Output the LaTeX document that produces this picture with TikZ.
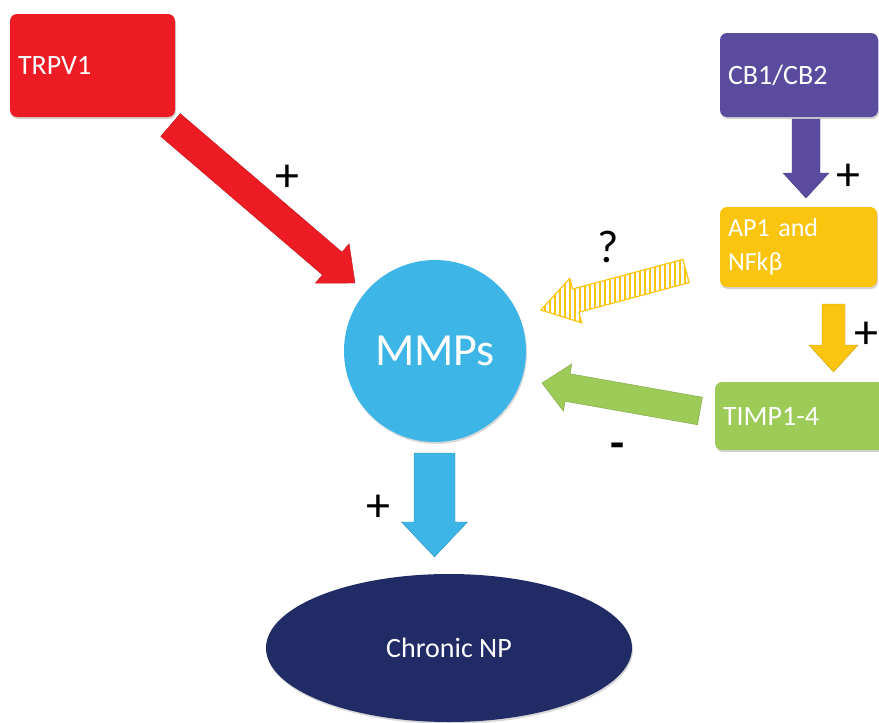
\documentclass[tikz,border=0pt]{standalone}
\usepackage{fontspec}
\setmainfont{Carlito}
\usetikzlibrary{calc,patterns.meta,shadows,shapes.geometric}

\definecolor{cred}{HTML}{ED1C24}
\definecolor{cpurple}{HTML}{5B4B9F}
\definecolor{cyellow}{HTML}{FBC40F}
\definecolor{cgreen}{HTML}{9CCB58}
\definecolor{cblue}{HTML}{3DB5E6}
\definecolor{cnavy}{HTML}{212B66}

% style, tail, tip, shaft half width, head half width, head length
\newcommand{\blockarrow}[6]{%
  \coordinate (ba-h) at ($(#3)!#6!(#2)$);
  \path[#1] ($(#2)!#4!90:(#3)$) -- ($(ba-h)!#4!-90:(#2)$) -- ($(ba-h)!#5!-90:(#2)$)
    -- (#3) -- ($(ba-h)!#5!90:(#2)$) -- ($(ba-h)!#4!90:(#2)$) -- ($(#2)!#4!-90:(#3)$) -- cycle;
}

\tikzset{
  boxnode/.style={rectangle, rounded corners=7pt, text=white, font=\fontsize{28}{30}\selectfont,
    align=left, inner xsep=8pt, inner ysep=0pt,
    drop shadow={shadow xshift=1pt, shadow yshift=-2pt, opacity=0.35}},
  sign/.style={font=\fontsize{48}{50}\selectfont, text=black, inner sep=0pt},
  solidarrow/.style={fill=#1, draw=#1!80!black, line width=0.4pt},
  hatcharrow/.style={draw=cyellow, line width=1.2pt,
    pattern={Lines[angle=90,distance=5pt,line width=1.3pt]}, pattern color=cyellow}
}

\begin{document}
\begin{tikzpicture}[x=1pt,y=-1pt]
\useasboundingbox (0,0) rectangle (879,723);
\clip (0,0) rectangle (879,723);

% nodes
\node[boxnode, fill=cred, minimum width=165pt, minimum height=103pt, text width=149pt] (trpv) at (92.5,65.5) {TRPV1};
\node[boxnode, fill=cpurple, minimum width=158pt, minimum height=84pt, text width=142pt] (cb) at (799,75) {CB1/CB2};
\node[boxnode, fill=cyellow, minimum width=157pt, minimum height=80pt, text width=141pt,
      font=\fontsize{26}{34}\selectfont] (ap) at (798.5,247) {AP1 and\\NFkβ};
\node[boxnode, fill=cgreen, minimum width=170pt, minimum height=68pt, text width=154pt] (timp) at (800,416) {TIMP1-4};
\node[circle, fill=cblue, minimum size=182pt, text=white, font=\fontsize{46}{48}\selectfont,
      drop shadow={shadow xshift=1pt, shadow yshift=-2pt, opacity=0.3}] (mmp) at (435,351) {MMPs};
\node[ellipse, fill=cnavy, minimum width=366pt, minimum height=148pt, text=white,
      font=\fontsize{28}{30}\selectfont,
      drop shadow={shadow xshift=1pt, shadow yshift=-2pt, opacity=0.3}] (np) at (449,648) {Chronic NP};

% arrow end points
\coordinate (r-t) at (170.5,125);  \coordinate (r-h) at (355,283);
\coordinate (p-t) at (806,119);    \coordinate (p-h) at (806,198);
\coordinate (y-t) at (833.5,304);  \coordinate (y-h) at (833.5,372);
\coordinate (b-t) at (434.5,453);  \coordinate (b-h) at (434.5,557);
\coordinate (g-t) at (700,411);    \coordinate (g-h) at (542,383);
\coordinate (q-t) at (686,271);    \coordinate (q-h) at (541,310);

\blockarrow{solidarrow=cred}{r-t}{r-h}{15pt}{26pt}{30pt}
\blockarrow{solidarrow=cpurple}{p-t}{p-h}{14pt}{23pt}{25pt}
\blockarrow{solidarrow=cyellow}{y-t}{y-h}{11.5pt}{24.5pt}{27pt}
\blockarrow{solidarrow=cblue}{b-t}{b-h}{20.5pt}{33pt}{35pt}
\blockarrow{solidarrow=cgreen}{g-t}{g-h}{14pt}{24pt}{26pt}
\blockarrow{hatcharrow}{q-t}{q-h}{12pt}{23pt}{36pt}

% signs
\node[sign] (s1) at (287,178) {+};
\node[sign] (s2) at (848,177) {+};
\node[sign] (s3) at (866,335) {+};
\node[sign] (s4) at (378,508) {+};
\node[sign, font=\fontsize{46}{48}\selectfont] (s5) at (608,247) {?};
\node[sign, font=\fontsize{46}{48}\selectfont\bfseries] (s6) at (618,451) {-};
\end{tikzpicture}
\end{document}
